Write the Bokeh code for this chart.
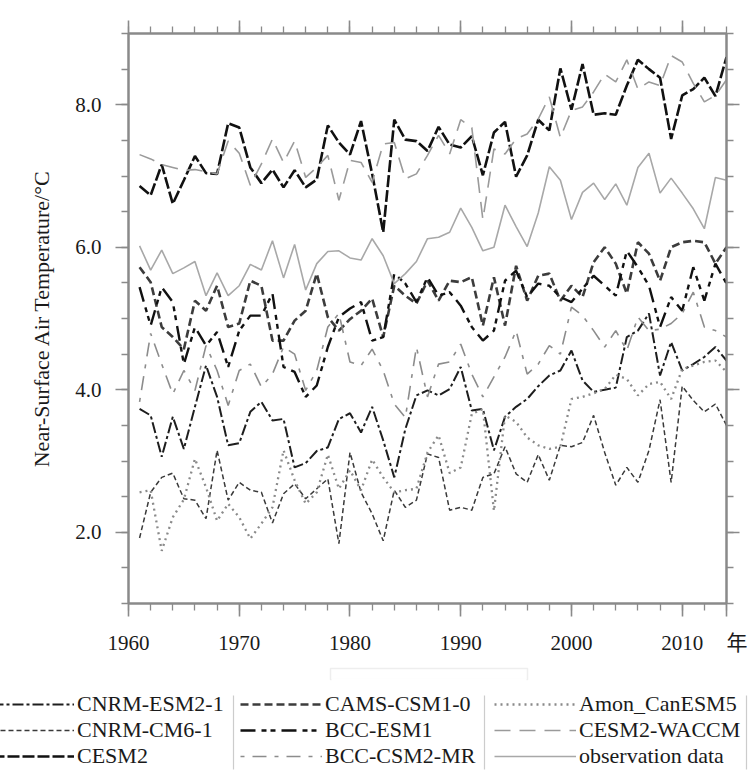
from bokeh.plotting import figure
from bokeh.layouts import column, row
from bokeh.models import (Legend, LegendItem, LinearAxis, FixedTicker,
                          NumeralTickFormatter, CustomJSTickFormatter, BoxAnnotation)
from bokeh.embed import file_html
from bokeh.resources import INLINE

years = list(range(1961, 2015))

cesm2 = [6.86, 6.73, 7.16, 6.61, 6.94, 7.28, 7.04, 7.03, 7.74, 7.68,
         7.12, 6.90, 7.09, 6.84, 7.08, 6.84, 6.95, 7.71, 7.47, 7.30,
         7.77, 7.03, 6.21, 7.79, 7.51, 7.49, 7.35, 7.69, 7.44, 7.40,
         7.56, 7.01, 7.61, 7.76, 6.99, 7.29, 7.79, 7.64, 8.51, 7.93,
         8.57, 7.86, 7.88, 7.86, 8.27, 8.63, 8.50, 8.38, 7.52, 8.13,
         8.22, 8.38, 8.12, 8.67]
cesm2_waccm = [7.30, 7.24, 7.16, 7.12, 7.08, 7.09, 7.06, 7.03, 7.49, 7.32,
               6.87, 7.17, 7.52, 7.19, 7.49, 6.98, 7.12, 7.29, 6.66, 7.22,
               7.19, 6.91, 7.45, 7.47, 6.96, 7.03, 7.29, 7.57, 7.31, 7.79,
               7.68, 6.39, 7.38, 7.31, 7.52, 7.59, 7.80, 8.11, 7.54, 7.92,
               7.97, 8.18, 8.43, 8.32, 8.63, 8.22, 8.32, 8.27, 8.69, 8.60,
               8.30, 8.04, 8.13, 8.35]
observation = [6.02, 5.68, 5.96, 5.63, 5.71, 5.80, 5.32, 5.64, 5.32, 5.46,
               5.76, 5.68, 6.09, 5.57, 6.04, 5.40, 5.77, 5.94, 5.95, 5.85,
               5.82, 6.12, 5.88, 5.49, 5.63, 5.80, 6.12, 6.14, 6.21, 6.55,
               6.28, 5.95, 6.00, 6.59, 6.29, 6.01, 6.48, 7.13, 6.94, 6.39,
               6.77, 6.90, 6.67, 6.89, 6.59, 7.12, 7.32, 6.76, 6.97, 6.76,
               6.54, 6.26, 6.98, 6.94]
cnrm_cm6_1 = [1.92, 2.56, 2.77, 2.83, 2.47, 2.45, 2.19, 3.15, 2.45, 2.70,
              2.59, 2.56, 2.13, 2.54, 2.68, 2.47, 2.61, 2.75, 1.84, 3.12,
              2.56, 2.26, 1.88, 2.59, 2.35, 2.45, 3.10, 3.05, 2.31, 2.35,
              2.31, 2.77, 2.82, 3.20, 2.82, 2.70, 3.09, 2.73, 3.22, 3.20,
              3.26, 3.64, 3.12, 2.66, 2.91, 2.70, 3.15, 3.86, 2.70, 4.05,
              3.85, 3.69, 3.80, 3.50]
amon_canesm5 = [2.56, 2.59, 1.74, 2.21, 2.46, 3.03, 2.63, 2.16, 2.40, 2.21,
                1.91, 2.12, 2.35, 3.15, 2.73, 2.40, 2.56, 3.09, 2.61, 2.87,
                2.59, 3.02, 2.77, 2.56, 2.59, 2.61, 3.12, 3.36, 2.83, 2.91,
                3.66, 3.73, 2.30, 3.64, 3.55, 3.33, 3.22, 3.17, 3.20, 3.87,
                3.90, 3.95, 4.01, 4.21, 4.15, 3.92, 4.08, 4.11, 3.87, 4.29,
                4.34, 4.39, 4.41, 4.25]
cnrm_esm2_1 = [3.73, 3.64, 3.06, 3.62, 3.17, 3.76, 4.34, 3.90, 3.22, 3.25,
               3.69, 3.83, 3.57, 3.59, 2.91, 2.97, 3.14, 3.19, 3.59, 3.67,
               3.40, 3.76, 3.29, 2.77, 3.45, 3.92, 3.99, 3.92, 4.01, 4.32,
               3.71, 3.73, 3.15, 3.62, 3.76, 3.87, 4.05, 4.20, 4.27, 4.55,
               4.13, 3.97, 4.00, 4.03, 4.74, 4.83, 5.07, 4.20, 4.67, 4.27,
               4.36, 4.46, 4.60, 4.41]
cams_csm1_0 = [5.72, 5.51, 4.88, 4.74, 4.57, 5.25, 5.11, 5.46, 4.88, 4.93,
               5.53, 5.46, 4.69, 4.69, 4.97, 5.11, 5.63, 5.02, 4.83, 4.99,
               5.11, 5.28, 4.74, 5.46, 5.32, 5.21, 5.53, 5.25, 5.53, 5.51,
               5.58, 4.90, 5.58, 4.90, 5.74, 5.25, 5.60, 5.63, 5.25, 5.46,
               5.30, 5.79, 6.00, 5.77, 5.35, 6.07, 5.91, 5.53, 6.00, 6.07,
               6.09, 6.07, 5.77, 6.00]
bcc_esm1 = [5.44, 4.90, 5.44, 5.23, 4.36, 4.88, 4.62, 4.81, 4.32, 4.83,
            5.04, 5.04, 5.35, 4.32, 4.25, 3.90, 4.06, 4.60, 5.02, 5.14,
            5.23, 4.69, 4.74, 5.63, 5.49, 5.23, 5.58, 5.32, 5.37, 5.18,
            4.88, 4.69, 4.83, 5.53, 5.67, 5.30, 5.49, 5.46, 5.30, 5.23,
            5.42, 5.60, 5.46, 5.32, 5.95, 5.72, 5.46, 4.88, 5.30, 5.11,
            5.72, 5.25, 5.77, 5.49]
bcc_csm2_mr = [3.83, 4.79, 4.36, 3.94, 4.27, 3.99, 4.62, 4.27, 3.78, 4.27,
               4.36, 4.04, 4.22, 4.60, 4.50, 3.99, 4.27, 4.88, 5.07, 4.39,
               4.34, 4.57, 4.27, 3.80, 3.61, 4.60, 3.90, 4.36, 4.39, 4.64,
               4.22, 3.90, 4.18, 4.46, 4.83, 4.22, 4.36, 4.62, 4.50, 5.16,
               5.04, 4.83, 4.60, 4.83, 4.55, 5.02, 4.83, 4.85, 4.93, 5.07,
               5.37, 4.88, 4.83, 4.74]

x_major = [1960, 1970, 1980, 1990, 2000, 2010]
x_minor = list(range(1960, 2015, 2))
x_unit_tick = 2014
x_unit_label = "\u2003年"
y_major = [2, 4, 6, 8]
y_minor = [1 + 0.5 * i for i in range(17)]

legend_columns = [["CNRM-ESM2-1", "CNRM-CM6-1", "CESM2"],
                  ["CAMS-CSM1-0", "BCC-ESM1", "BCC-CSM2-MR"],
                  ["Amon_CanESM5", "CESM2-WACCM", "observation data"]]

GREY = "#8a8a8a"
FONT = "'Liberation Serif', 'Noto Sans CJK SC'"
TXT = "#1a1a1a"

p = figure(width=748, height=660, x_range=(1960, 2014), y_range=(1, 9),
           output_backend="svg", toolbar_location=None,
           min_border_left=128, min_border_right=22, min_border_top=33,
           min_border_bottom=57)
p.grid.visible = False
p.outline_line_color = GREY
p.outline_line_width = 2
p.background_fill_color = "white"
p.border_fill_color = "white"

p.add_layout(LinearAxis(), "above")
p.add_layout(LinearAxis(), "right")

p.below[0].ticker = FixedTicker(ticks=x_major + [x_unit_tick], minor_ticks=x_minor)
p.below[0].major_label_overrides = {x_unit_tick: x_unit_label}
p.above[0].ticker = FixedTicker(ticks=x_major, minor_ticks=x_minor)
for ax in p.yaxis:
    ax.ticker = FixedTicker(ticks=y_major, minor_ticks=y_minor)
    ax.formatter = NumeralTickFormatter(format="0.0")
for ax in p.axis:
    ax.axis_line_color = GREY
    ax.axis_line_width = 2
    ax.major_tick_line_color = GREY
    ax.major_tick_line_width = 1.6
    ax.minor_tick_line_color = GREY
    ax.minor_tick_line_width = 1.3
    ax.major_tick_in = 0
    ax.major_tick_out = 13
    ax.minor_tick_in = 0
    ax.minor_tick_out = 7
    ax.major_label_text_font = FONT
    ax.major_label_text_font_size = "21px"
    ax.major_label_text_color = TXT
    ax.major_label_standoff = 14
for ax in (p.above[0], p.right[0]):
    ax.formatter = CustomJSTickFormatter(code="return ''")
    ax.major_label_standoff = 0

p.yaxis[0].axis_label = "Near-Surface Air Temperature/°C"
p.yaxis[0].axis_label_text_font = FONT
p.yaxis[0].axis_label_text_font_size = "22px"
p.yaxis[0].axis_label_text_font_style = "normal"
p.yaxis[0].axis_label_text_color = TXT
p.yaxis[0].axis_label_standoff = 18

styles = {
    "CNRM-ESM2-1": (cnrm_esm2_1, "#1e1e1e", 2.0, "11 3 3 3"),
    "CNRM-CM6-1": (cnrm_cm6_1, "#3a3a3a", 1.5, "5 3"),
    "CESM2": (cesm2, "#111111", 2.6, "12 3"),
    "CAMS-CSM1-0": (cams_csm1_0, "#3c3c3c", 2.6, "8 4"),
    "BCC-ESM1": (bcc_esm1, "#111111", 2.4, "15 6 5 4 5 6"),
    "BCC-CSM2-MR": (bcc_csm2_mr, "#8c8c8c", 1.6, "4 8 14 8"),
    "Amon_CanESM5": (amon_canesm5, "#8a8a8a", 2.3, "2 4"),
    "CESM2-WACCM": (cesm2_waccm, "#9a9a9a", 1.6, "16 9"),
    "observation data": (observation, "#a8a8a8", 1.6, "solid"),
}

for name, (vals, col, w, dash) in styles.items():
    p.line(years, vals, line_color=col, line_width=w, line_dash=dash)

# legend panel below the chart (its own frame fills the panel)
lp = figure(width=748, height=111, x_range=(0, 748), y_range=(0, 111),
            output_backend="svg", toolbar_location=None,
            x_axis_type=None, y_axis_type=None,
            min_border_left=0, min_border_right=0, min_border_top=0,
            min_border_bottom=0)
lp.grid.visible = False
lp.outline_line_color = None
lp.border_fill_color = "white"

# key renderers carry the series (they lie outside this panel's ranges)
keys = {}
for name, (vals, col, w, dash) in styles.items():
    keys[name] = lp.line(years, vals, line_color=col, line_width=w, line_dash=dash)

col_x = [-8, 240, 494]
for names, cx in zip(legend_columns, col_x):
    lg = Legend(items=[LegendItem(label=n, renderers=[keys[n]]) for n in names],
                location=(cx, 2), orientation="vertical",
                glyph_width=82, glyph_height=20, label_standoff=3,
                label_height=20, spacing=0, padding=0, margin=0,
                border_line_color=None, background_fill_alpha=0,
                label_text_font=FONT, label_text_font_size="22px",
                label_text_color=TXT)
    lp.add_layout(lg, "center")

for sx in [233, 484, 746]:
    lp.add_layout(BoxAnnotation(left=sx, right=sx, top=76, bottom=2,
                                fill_alpha=0, line_color="#555555", line_width=1.2))
lp.add_layout(BoxAnnotation(left=330, right=527, top=103, bottom=92,
                            fill_alpha=0, line_color="#c8c8c8", line_width=1.5))
lp.add_layout(BoxAnnotation(left=331, right=526, top=93.2, bottom=89,
                            fill_color="white", fill_alpha=1, line_alpha=0))

open("out.html", "w").write(file_html(column(p, row(lp)), INLINE))
